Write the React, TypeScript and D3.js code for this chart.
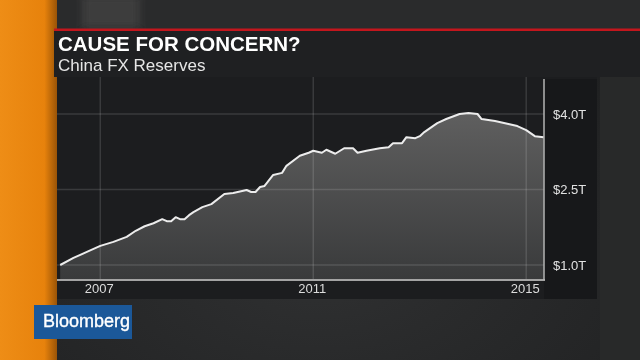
import React from 'react';
import * as d3 from 'd3';

// China FX reserves, trillions USD
const dates = [
  '2006-04', '2006-07', '2006-10', '2007-01', '2007-04', '2007-07', '2007-09', '2007-11',
  '2008-01', '2008-03', '2008-04', '2008-05', '2008-06', '2008-07', '2008-08', '2008-09',
  '2008-10', '2008-12', '2009-02', '2009-05', '2009-07', '2009-10', '2009-11', '2009-12',
  '2010-01', '2010-02', '2010-04', '2010-06', '2010-07', '2010-10', '2010-12', '2011-01',
  '2011-03', '2011-04', '2011-06', '2011-08', '2011-10', '2011-11', '2012-01', '2012-04',
  '2012-06', '2012-07', '2012-09', '2012-10', '2012-12', '2013-01', '2013-02', '2013-04',
  '2013-05', '2013-07', '2013-10', '2013-12', '2014-02', '2014-03', '2014-06', '2014-09',
  '2014-11', '2015-01', '2015-03', '2015-05',
];
const reserves = [
  1.00, 1.14, 1.26, 1.38, 1.46, 1.56, 1.68, 1.77,
  1.83, 1.91, 1.87, 1.87, 1.95, 1.91, 1.91, 1.99,
  2.05, 2.15, 2.21, 2.41, 2.43, 2.49, 2.45, 2.45,
  2.55, 2.57, 2.79, 2.83, 2.97, 3.17, 3.23, 3.27,
  3.23, 3.29, 3.21, 3.32, 3.32, 3.23, 3.27, 3.32,
  3.34, 3.42, 3.42, 3.54, 3.52, 3.56, 3.64, 3.76,
  3.82, 3.90, 4.00, 4.02, 4.00, 3.90, 3.86, 3.80,
  3.76, 3.68, 3.56, 3.54,
];
const yTicks = [1.0, 2.5, 4.0];
const yearTicks = [2007, 2011, 2015];

const title = 'CAUSE FOR CONCERN?';
const subtitle = 'China FX Reserves';

const W = 640;
const H = 360;
const plot = { left: 57, right: 544, top: 77, bottom: 280 };
const font = '"Liberation Sans", Arial, Helvetica, sans-serif';

const parse = d3.timeParse('%Y-%m');
const data = dates.map((d, i) => ({ date: parse(d) as Date, value: reserves[i] }));

export default function App() {
  const x = d3.scaleTime()
    .domain([new Date(2006, 2, 10), new Date(2015, 4, 3)])
    .range([plot.left, plot.right]);
  const y = d3.scaleLinear().domain([1, 4]).range([265, 114]);

  const area = d3.area<{ date: Date; value: number }>()
    .x(d => x(d.date))
    .y0(plot.bottom)
    .y1(d => y(d.value));
  const line = d3.line<{ date: Date; value: number }>()
    .x(d => x(d.date))
    .y(d => y(d.value));

  return (
    <div style={{ position: 'fixed', left: 0, top: 0 }}>
      <svg width={W} height={H} style={{ display: 'block' }}>
        <defs>
          <radialGradient id="bg" cx="0.5" cy="0.75" r="0.7">
            <stop offset="0" stopColor="#2f3031" />
            <stop offset="1" stopColor="#1f2021" />
          </radialGradient>
          <linearGradient id="orange" x1="0" x2="1" y1="0" y2="0">
            <stop offset="0" stopColor="#ee8d16" />
            <stop offset="0.78" stopColor="#e7820c" />
            <stop offset="1" stopColor="#9a5407" />
          </linearGradient>
          <linearGradient id="areaFill" gradientUnits="userSpaceOnUse" x1="0" x2="0" y1="113" y2={plot.bottom}>
            <stop offset="0" stopColor="#5f5f5f" />
            <stop offset="1" stopColor="#393a3b" />
          </linearGradient>
          <filter id="blur"><feGaussianBlur stdDeviation="4" /></filter>
        </defs>

        {/* backdrop */}
        <rect width={W} height={H} fill="url(#bg)" />
        <rect x={0} y={0} width={W} height={30} fill="#2a2b2c" />
        <rect x={82} y={-5} width={58} height={34} fill="#3c3d3e" filter="url(#blur)" />
        <rect x={600} y={77} width={40} height={283} fill="#282929" />

        {/* chart panel */}
        <rect x={plot.left} y={plot.top} width={597 - plot.left} height={299 - plot.top} fill="#1c1d1f" />
        <rect x={plot.right} y={plot.top + 2} width={597 - plot.right} height={299 - plot.top - 2} fill="#17181a" />

        <path d={area(data) ?? ''} fill="url(#areaFill)" />

        {yTicks.map(t => (
          <line key={t} x1={plot.left} x2={plot.right} y1={y(t)} y2={y(t)}
            stroke="rgba(255,255,255,0.13)" strokeWidth={1.5} />
        ))}
        {yearTicks.map(t => (
          <line key={t} x1={x(new Date(t, 0, 1))} x2={x(new Date(t, 0, 1))} y1={plot.top} y2={plot.bottom}
            stroke="rgba(255,255,255,0.13)" strokeWidth={1.5} />
        ))}

        <path d={line(data) ?? ''} fill="none" stroke="#ececec" strokeWidth={2} strokeLinejoin="round" />

        <line x1={plot.left} x2={plot.right + 1} y1={plot.bottom} y2={plot.bottom} stroke="#a4a4a4" strokeWidth={2} />
        <line x1={plot.right} x2={plot.right} y1={plot.top + 2} y2={plot.bottom} stroke="#b4b4b4" strokeWidth={1.5} />

        {yTicks.map(t => (
          <text key={t} x={553} y={y(t) + 4.5} fill="#e2e2e2" fontFamily={font} fontSize={13}>
            {`$${t.toFixed(1)}T`}
          </text>
        ))}
        {yearTicks.map(t => (
          <text key={t} x={x(new Date(t, 0, 1)) - 1} y={293} fill="#dcdcdc" fontFamily={font} fontSize={13}
            textAnchor="middle">
            {t}
          </text>
        ))}

        {/* orange side strip */}
        <rect x={0} y={0} width={57} height={H} fill="url(#orange)" />

        {/* title block */}
        <rect x={54} y={31} width={W - 54} height={46} fill="#1f2022" />
        <rect x={54} y={28.5} width={W - 54} height={2.5} fill="#c3161d" />
        <text x={58} y={50.5} fill="#ffffff" fontFamily={font} fontSize={20.5} fontWeight="bold">{title}</text>
        <text x={58} y={71} fill="#e6e6e6" fontFamily={font} fontSize={17}>{subtitle}</text>

        {/* logo */}
        <rect x={34} y={305} width={98} height={34} fill="#1b5899" />
        <text x={43} y={327} fill="#ffffff" fontFamily={font} fontSize={18} stroke="#ffffff" strokeWidth={0.35}>
          Bloomberg
        </text>
      </svg>
    </div>
  );
}
